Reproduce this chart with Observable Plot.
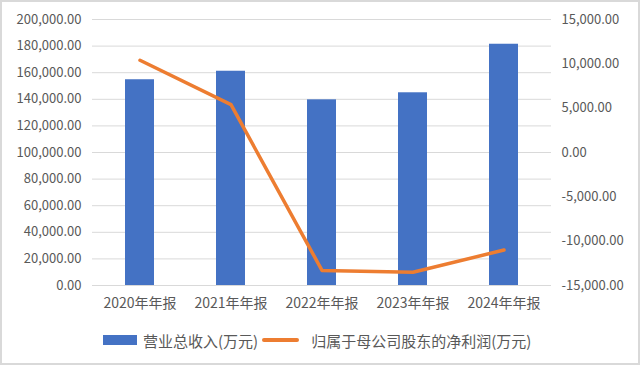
<!DOCTYPE html>
<html><head><meta charset="utf-8">
<script src="https://cdn.jsdelivr.net/npm/d3@7"></script>
<script src="https://cdn.jsdelivr.net/npm/@observablehq/plot@0.6"></script>
<style>
body{margin:0;background:#fff;}
#wrap{position:relative;width:640px;height:365px;overflow:hidden;background:#fff;font-family:"Noto Sans CJK SC","Noto Sans",sans-serif;color:#595959;}
#frame{position:absolute;left:0;top:0;width:640px;height:365px;box-sizing:border-box;border:2px solid #d9d9d9;pointer-events:none;}
#legend{position:absolute;left:103px;top:320px;height:40px;display:flex;align-items:center;font-size:15px;color:#595959;white-space:nowrap;}
.sw-bar{width:34px;height:10px;background:#4472C4;margin-right:6px;}
.sw-line{width:37px;height:4px;background:#ED7D31;border-radius:2px;margin-left:4px;margin-right:12px;}
</style></head><body>
<div id="wrap"><div id="plot"></div>
<div id="legend"><span class="sw-bar"></span><span>营业总收入(万元)</span><span class="sw-line"></span><span>归属于母公司股东的净利润(万元)</span></div>
<div id="frame"></div></div>
<script>
const years = ["2020年年报","2021年年报","2022年年报","2023年年报","2024年年报"];
const revenue = [154700, 161100, 139600, 144900, 181400];
const netProfit = [10400, 5400, -13300, -13500, -11000];
const leftTicks = [0,20000,40000,60000,80000,100000,120000,140000,160000,180000,200000];
const rightTicks = [-15000,-10000,-5000,0,5000,10000,15000];
const seriesNames = ["营业总收入(万元)","归属于母公司股东的净利润(万元)"];

const L = [0, 200000], R = [-15000, 15000];
const toLeft = v => (v - R[0]) / (R[1] - R[0]) * (L[1] - L[0]) + L[0];
const fromLeft = v => (v - L[0]) / (L[1] - L[0]) * (R[1] - R[0]) + R[0];
const fmt = d3.formatLocale({decimal: ".", thousands: ",", grouping: [3], currency: ["", ""], minus: "-"}).format(",.2f");

const bars = years.map((y, i) => ({year: y, value: revenue[i]}));
const line = years.map((y, i) => ({year: y, value: toLeft(netProfit[i])}));

const chart = Plot.plot({
  width: 640, height: 320,
  marginTop: 19, marginBottom: 35, marginLeft: 92, marginRight: 89,
  style: {fontFamily: '"Noto Sans CJK SC","Noto Sans",sans-serif', fontSize: "13px", color: "#595959", background: "transparent"},
  x: {domain: years, paddingInner: 0.684, paddingOuter: 0.342, label: null},
  y: {domain: L, label: null},
  marks: [
    Plot.gridY(leftTicks, {stroke: "#d9d9d9", strokeOpacity: 1, strokeWidth: 1}),
    Plot.barY(bars, {x: "year", y: "value", fill: "#4472C4"}),
    Plot.line(line, {x: "year", y: "value", stroke: "#ED7D31", strokeWidth: 3.5, strokeLinejoin: "round", strokeLinecap: "round"}),
    Plot.axisY(leftTicks, {anchor: "left", tickSize: 0, tickPadding: 11, tickFormat: fmt, label: null}),
    Plot.axisY(rightTicks.map(toLeft), {anchor: "right", tickSize: 0, tickPadding: 10, tickFormat: d => fmt(Math.round(fromLeft(d))), label: null}),
    Plot.axisX({tickSize: 0, tickPadding: 13, fontSize: 14, label: null})
  ]
});
document.getElementById("plot").appendChild(chart);
</script>
</body></html>
